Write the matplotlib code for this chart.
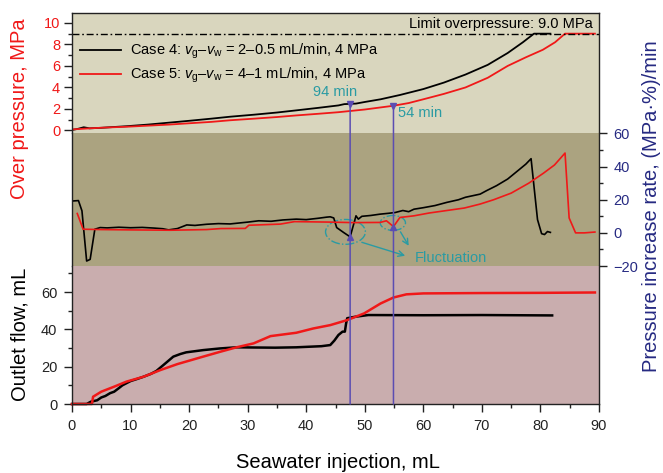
import numpy as np
import matplotlib
matplotlib.use("Agg")
import matplotlib.pyplot as plt
from matplotlib.ticker import MultipleLocator
from matplotlib.patches import Ellipse, ConnectionPatch

plt.rcParams['font.family'] = ['Liberation Sans', 'DejaVu Sans']
plt.rcParams['mathtext.fontset'] = 'custom'
plt.rcParams['mathtext.rm'] = 'Liberation Sans'
plt.rcParams['mathtext.it'] = 'Liberation Sans:italic'

# ---- data: over pressure (MPa) vs seawater injection (mL) ----
p4_x = [0, 1, 2, 3, 5, 9.4, 13, 16.6, 20, 23.8, 27, 31.1, 35, 38.3, 42, 45.5, 46.5,
        48.5, 50, 52.7, 56, 60, 63.5, 67.2, 71, 74.4, 77, 78.9, 81.7]
p4_y = [0.05, 0.15, 0.3, 0.2, 0.25, 0.4, 0.55, 0.73, 0.9, 1.1, 1.28, 1.47, 1.67, 1.87,
        2.1, 2.33, 2.45, 2.5, 2.65, 2.9, 3.3, 3.85, 4.45, 5.2, 6.1, 7.2, 8.2, 9.0, 9.0]
p5_x = [0, 3, 6, 9.4, 13, 16.6, 20, 23.8, 27, 31.1, 35, 38.3, 42, 45.5, 50, 54.9, 57.5,
        60, 63.5, 67.2, 71, 74.4, 77.5, 80.4, 82.5, 84.2, 89.3]
p5_y = [0.1, 0.2, 0.28, 0.35, 0.45, 0.55, 0.67, 0.8, 0.95, 1.1, 1.25, 1.4, 1.55, 1.7,
        1.95, 2.3, 2.55, 2.9, 3.4, 4.0, 4.9, 6.0, 6.8, 7.5, 8.2, 9.0, 9.0]
limit_pressure = 9.0

# ---- data: pressure increase rate, (MPa·%)/min ----
r4_x = [0.3, 1.1, 1.7, 2.5, 3.1, 3.9, 4.8, 6, 8, 10, 12, 14, 15.5, 16.5, 18, 19.6, 21,
        23, 25, 27, 28.1, 30, 31.9, 34, 36, 38.3, 40, 42, 43.5, 44.1, 44.7, 45.2, 46.4,
        47.5, 48.5, 48.9, 49.5, 51, 52.6, 54, 55.2, 56.5, 57.5, 58.4, 60, 62, 64, 66,
        67.2, 69.7, 70.8, 72.5, 74.4, 76.3, 77.5, 78.4, 78.9, 79.5, 80.2, 80.7, 81.2, 81.7]
r4_y = [19.3, 19.5, 13.3, -17, -16, 2.2, 3.2, 3.0, 3.4, 3.1, 3.3, 2.9, 2.5, 1.8, 2.6,
        4.8, 4.5, 5.2, 5.6, 5.4, 5.8, 6.5, 7.3, 7.0, 7.8, 8.3, 8.0, 8.8, 9.5, 9.7, 9.0,
        3.2, 0.2, -2.4, 10.3, 8.3, 10.0, 10.5, 11.3, 11.8, 12.3, 13.5, 12.8, 14.3, 15.2,
        16.5, 18.4, 20.0, 21.5, 23.4, 25.5, 28.5, 32.5, 38.0, 41.5, 44.8, 28.0, 8.0,
        -0.5, -1.0, 0.8, 0.3]
r5_x = [0.9, 1.9, 5, 10, 16.8, 20, 23, 25.4, 29.6, 30.2, 35.6, 38, 44.1, 48, 52.6, 53.7,
        54.9, 56, 58.4, 61, 64, 67, 69.7, 72, 75, 78, 80.5, 82.4, 84.2, 84.9, 86, 87.5, 89.3]
r5_y = [11.7, 2.2, 2.0, 1.8, 1.6, 1.8, 2.0, 2.6, 2.7, 4.6, 5.3, 6.8, 6.5, 6.2, 6.3, 7.3,
        3.8, 9.3, 10.3, 12.0, 13.5, 15.0, 17.4, 20.0, 24.0, 30.0, 36.0, 41.0, 48.2, 9.0,
        0.0, 0.0, 0.5]

# ---- data: outlet flow, mL ----
f4_x = [0, 2.5, 3.2, 4.3, 5.0, 5.7, 6.5, 7.2, 8.0, 8.6, 10, 11, 12.2, 13.5, 14.4, 15.8,
        17.3, 18.5, 19.5, 22.4, 25.3, 28.1, 31, 34.7, 38.3, 42.6, 44.1, 44.8, 45.5, 46.2,
        46.6, 46.8, 47.0, 48.4, 50.6, 60, 70, 82]
f4_y = [0, 0, 1.2, 2.0, 3.5, 4.3, 5.8, 6.6, 8.5, 10, 12.3, 13.3, 14.6, 16.2, 17.7, 21.4,
        25.4, 26.8, 27.7, 28.9, 29.8, 30.4, 30.3, 30.2, 30.4, 31.0, 31.6, 34, 37, 38.8,
        38.8, 43, 46, 46.8, 47.7, 47.6, 47.7, 47.5]
f5_x = [0, 3.4, 3.6, 5, 7.2, 9.3, 12.2, 15.1, 18, 22.4, 25.3, 28.1, 31, 33.9, 38.3, 41.2,
        44.1, 47, 49.9, 52.7, 54.9, 57.1, 60, 70, 80, 89.3]
f5_y = [0, 0, 3.9, 6.6, 9.3, 12, 14.6, 18.2, 21.4, 25.4, 28, 30.4, 32.5, 36.4, 38.2,
        40.5, 42.3, 45, 48.6, 53.9, 57.1, 58.8, 59.3, 59.5, 59.6, 59.8]

# times at which the marked injection volumes are reached
mark_x = [47.5, 54.9]
mark_labels = ['94 min', '54 min']

RED = '#F01818'
NAVY = '#262A82'
TEAL = '#2A9BA3'
PURPLE = '#5B4DB2'

fig = plt.figure(figsize=(6.63, 4.73), dpi=100)
W, H = 663.0, 473.0
left, right = 72 / W, 599 / W
def band(top_px, bot_px):
    return [left, 1 - bot_px / H, right - left, (bot_px - top_px) / H]

ax_top = fig.add_axes(band(13, 133.5))
ax_mid = fig.add_axes(band(133.5, 266))
ax_bot = fig.add_axes(band(266, 404))

ax_top.set_facecolor('#D9D6BE')
ax_mid.set_facecolor('#ABA380')
ax_bot.set_facecolor('#C9ADAE')

for ax in (ax_top, ax_mid, ax_bot):
    ax.set_xlim(0, 90)
    for s in ax.spines.values():
        s.set_linewidth(1.0)
        s.set_color('#222222')
    ax.tick_params(which='both', direction='out', width=1.0, colors='#222222')
    ax.tick_params(which='major', length=5.5)
    ax.tick_params(which='minor', length=3)

# top panel: over pressure
ax_top.set_ylim(-0.28, 10.92)
ax_top.spines['bottom'].set_visible(False)
ax_top.tick_params(axis='x', which='both', bottom=False, labelbottom=False)
ax_top.yaxis.set_major_locator(MultipleLocator(2))
ax_top.yaxis.set_minor_locator(MultipleLocator(1))
ax_top.tick_params(axis='y', labelsize=10.5, labelcolor=RED, pad=3)
ax_top.plot(p4_x, p4_y, color='black', lw=1.3, label=r'Case 4: $v_\mathregular{g}$–$v_\mathregular{w}$ = 2–0.5 mL/min, 4 MPa')
ax_top.plot(p5_x, p5_y, color=RED, lw=1.3, label=r'Case 5: $v_\mathregular{g}$–$v_\mathregular{w}$ = 4–1 mL/min, 4 MPa')
ax_top.axhline(limit_pressure, color='black', lw=1.0, dashes=[5, 2, 1.2, 2])
ax_top.text(88.9, 9.5, 'Limit overpressure: 9.0 MPa', ha='right', va='baseline', fontsize=10.5)
leg = ax_top.legend(loc='upper left', bbox_to_anchor=(0.005, 0.81), frameon=False,
                    fontsize=10.5, handlelength=2.8, handletextpad=0.6, labelspacing=0.35,
                    borderaxespad=0)

# middle panel: pressure increase rate
ax_mid.set_ylim(-20, 60)
ax_mid.spines['top'].set_visible(False)
ax_mid.spines['bottom'].set_visible(False)
ax_mid.tick_params(axis='x', which='both', bottom=False, labelbottom=False)
ax_mid.yaxis.tick_right()
ax_mid.yaxis.set_major_locator(MultipleLocator(20))
ax_mid.yaxis.set_minor_locator(MultipleLocator(10))
ax_mid.tick_params(axis='y', labelsize=10.5, labelcolor=NAVY, pad=5)
ax_mid.plot(r4_x, r4_y, color='black', lw=1.2)
ax_mid.plot(r5_x, r5_y, color=RED, lw=1.2)

# bottom panel: outlet flow
ax_bot.set_ylim(0, 74)
ax_bot.spines['top'].set_visible(False)
ax_bot.yaxis.set_major_locator(MultipleLocator(20))
ax_bot.yaxis.set_minor_locator(MultipleLocator(10))
ax_bot.xaxis.set_major_locator(MultipleLocator(10))
ax_bot.xaxis.set_minor_locator(MultipleLocator(5))
ax_bot.tick_params(axis='both', labelsize=10.5, pad=5)
ax_bot.plot(f4_x, f4_y, color='black', lw=1.8, clip_on=False)
ax_bot.plot(f5_x, f5_y, color=RED, lw=1.8, clip_on=False)

# vertical markers at the marked times
tops = [np.interp(mark_x[0], p4_x, p4_y), np.interp(mark_x[1], p5_x, p5_y)]
mids = [np.interp(mark_x[0], r4_x, r4_y), np.interp(mark_x[1], r5_x, r5_y)]
for xm, yt, ym in zip(mark_x, tops, mids):
    con = ConnectionPatch(xyA=(xm, yt), coordsA=ax_top.transData,
                          xyB=(xm, 0), coordsB=ax_bot.transData,
                          color=PURPLE, lw=1.1, zorder=5)
    fig.add_artist(con)
    ax_top.plot([xm], [yt], marker='v', color=PURPLE, ms=5, zorder=6)
    ax_mid.plot([xm], [ym], marker='^', color=PURPLE, ms=5, zorder=6)

ax_top.text(45.0, 3.55, mark_labels[0], color=TEAL, fontsize=10.5, ha='center', va='center')
ax_top.text(55.7, 1.6, mark_labels[1], color=TEAL, fontsize=10.5, ha='left', va='center')

# fluctuation highlights
ax_mid.add_patch(Ellipse((46.7, 0.6), 6.8, 15, fill=False, ec=TEAL, lw=1.0, ls='-.'))
ax_mid.add_patch(Ellipse((54.8, 6.0), 4.3, 9, fill=False, ec=TEAL, lw=1.0, ls='-.'))
ax_mid.annotate('', xy=(56.9, -13.8), xytext=(49.5, -5.7),
                arrowprops=dict(arrowstyle='->', color=TEAL, lw=1.0, shrinkA=0, shrinkB=0))
ax_mid.annotate('', xy=(57.5, -7.8), xytext=(56.1, 0.6),
                arrowprops=dict(arrowstyle='->', color=TEAL, lw=1.0, shrinkA=0, shrinkB=0))
ax_mid.text(58.5, -15.2, 'Fluctuation', color=TEAL, fontsize=10.5, ha='left', va='center')

# axis titles
fig.text(20 / W, 1 - 109 / H, 'Over pressure, MPa', color=RED, fontsize=14.5,
         rotation=90, ha='center', va='center')
fig.text(20 / W, 1 - 334 / H, 'Outlet flow, mL', color='black', fontsize=14.5,
         rotation=90, ha='center', va='center')
fig.text(661 / W, 1 - 206 / H, 'Pressure increase rate, (MPa\u00b7%)/min', color=NAVY,
         fontsize=14.5, rotation=90, ha='right', va='center')
fig.text(338 / W, 5 / H, 'Seawater injection, mL', fontsize=14.5, ha='center', va='baseline')

fig.savefig('out.png', dpi=100)
